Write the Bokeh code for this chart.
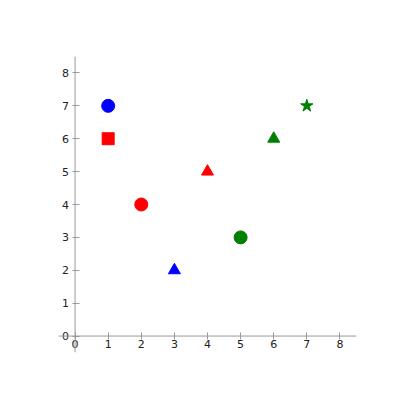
from bokeh.plotting import figure
from bokeh.models import Range1d, FixedTicker, Span
from bokeh.embed import file_html
from bokeh.resources import INLINE

xs = [1, 1, 2, 3, 4, 5, 6, 7]
ys = [7, 6, 4, 2, 5, 3, 6, 7]
markers = ["circle", "square", "circle", "triangle", "triangle", "circle", "triangle", "star"]
colors = ["blue", "red", "red", "blue", "red", "green", "green", "green"]
sizes = [13, 12, 13, 12, 12, 13, 12, 13]
ticks = [0, 1, 2, 3, 4, 5, 6, 7, 8]

p = figure(width=396, height=397, output_backend="svg", toolbar_location=None,
           x_range=Range1d(-0.5, 8.5), y_range=Range1d(-0.5, 8.5),
           min_border_left=58, min_border_top=56, min_border_right=40, min_border_bottom=45)
p.outline_line_color = None
p.grid.visible = False
p.background_fill_color = "white"
p.border_fill_color = "white"

p.add_layout(Span(location=0, dimension="width", line_color="#9a9a9a", line_width=1))
p.add_layout(Span(location=0, dimension="height", line_color="#9a9a9a", line_width=1))

for x, y, m, c, s in zip(xs, ys, markers, colors, sizes):
    p.scatter([x], [y], marker=m, size=s, fill_color=c, line_color=c)

for ax in (p.xaxis[0], p.yaxis[0]):
    ax.fixed_location = 0
    ax.ticker = FixedTicker(ticks=ticks)
    ax.axis_line_color = None
    ax.major_tick_line_color = "#9a9a9a"
    ax.major_tick_in = 4
    ax.major_tick_out = 3
    ax.minor_tick_line_color = None
    ax.major_label_text_font = "DejaVu Sans"
    ax.major_label_text_font_size = "11px"
    ax.major_label_text_color = "#222222"
p.xaxis[0].major_label_standoff = 1
p.yaxis[0].major_label_standoff = 3

open("out.html", "w").write(file_html(p, INLINE))
